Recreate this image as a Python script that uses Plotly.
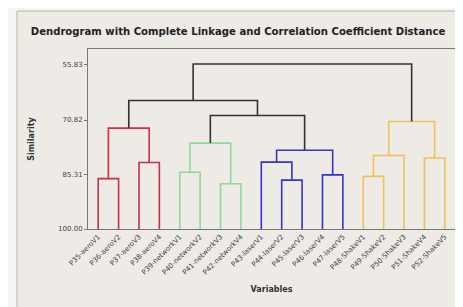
import plotly.graph_objects as go

# ---- data ----
leaf_labels = ["P35-aeroV1", "P36-aeroV2", "P37-aeroV3", "P38-aeroV4",
               "P39-networkV1", "P40-networkV2", "P41-networkV3", "P42-networkV4",
               "P43-laserV1", "P44-laserV2", "P45-laserV3", "P46-laserV4", "P47-laserV5",
               "P48-ShakeV1", "P49-ShakeV2", "P50-ShakeV3", "P51-ShakeV4", "P52-ShakeV5"]
leaf_group = ["A", "A", "A", "A", "B", "B", "B", "B", "C", "C", "C", "C", "C",
              "D", "D", "D", "D", "D"]
# linkage: (left child, right child, similarity); new clusters numbered from 18
merge_left = [0, 2, 18, 4, 6, 21, 9, 8, 11, 25, 13, 28, 16, 29, 23, 20, 33]
merge_right = [1, 3, 19, 5, 7, 22, 10, 24, 12, 26, 14, 15, 17, 30, 27, 32, 31]
merge_sim = [86.5, 82.2, 73.0, 84.8, 87.9, 77.0, 86.9, 82.1, 85.5, 78.9,
             85.9, 80.3, 81.0, 71.2, 69.6, 65.6, 55.83]
y_ticks = [55.83, 70.82, 85.31, 100.00]
y_tick_text = ["55.83", "70.82", "85.31", "100.00"]

# ---- style ----
group_color = {"A": "#cc2e48", "B": "#8fd89a", "C": "#3434cc", "D": "#f0c05c", None: "#333333"}
font_fam = "DejaVu Sans, Verdana, sans-serif"

n = len(leaf_labels)
pos = {i: float(i) for i in range(n)}
hgt = {i: 100.0 for i in range(n)}
grp = {i: leaf_group[i] for i in range(n)}
segs = {}
for k, (a, b, s) in enumerate(zip(merge_left, merge_right, merge_sim)):
    cid = n + k
    g = grp[a] if grp[a] == grp[b] else None
    segs.setdefault(g, ([], []))
    xs, ys = segs[g]
    xs += [pos[a], pos[a], pos[b], pos[b], None]
    ys += [hgt[a], s, s, hgt[b], None]
    pos[cid] = (pos[a] + pos[b]) / 2
    hgt[cid] = s
    grp[cid] = g

fig = go.Figure()
for g, (xs, ys) in segs.items():
    fig.add_trace(go.Scatter(x=xs, y=ys, mode="lines",
                             line=dict(color=group_color[g], width=1.6),
                             hoverinfo="skip", showlegend=False))

fig.update_layout(
    width=463, height=307,
    margin=dict(l=80, r=16, t=41, b=86),
    paper_bgcolor="#f7f5f3", plot_bgcolor="#ffffff",
    title=dict(text="<b>Dendrogram with Complete Linkage and Correlation Coefficient Distance</b>",
               xref="container", x=230 / 463, xanchor="center", y=0.925, yanchor="middle",
               font=dict(family=font_fam, size=10.1, color="#222222")),
    shapes=[dict(type="rect", xref="paper", yref="paper",
                 x0=(9 - 80) / 367, x1=(458 - 80) / 367,
                 y0=(221 - 304) / 180, y1=(221 - 3) / 180,
                 fillcolor="#eeeae5", line=dict(color="#b5b1ac", width=1),
                 layer="below")],
)
fig.update_xaxes(range=[-0.5, n - 0.5], tickmode="array",
                 tickvals=list(range(n)), ticktext=leaf_labels, tickangle=-45,
                 tickfont=dict(family=font_fam, size=7, color="#444444"),
                 ticks="", showgrid=False, zeroline=False,
                 showline=True, linecolor="#777777", mirror=True,
                 title=dict(text="<b>Variables</b>", standoff=10,
                            font=dict(family=font_fam, size=8, color="#333333")))
fig.update_yaxes(range=[100, 51.8], tickmode="array", tickvals=y_ticks,
                 ticktext=y_tick_text,
                 tickfont=dict(family=font_fam, size=7, color="#444444"),
                 ticks="outside", ticklen=3, tickcolor="#777777",
                 showgrid=False, zeroline=False,
                 showline=True, linecolor="#777777", mirror=True,
                 title=dict(text="<b>Similarity</b>", standoff=22,
                            font=dict(family=font_fam, size=8, color="#333333")))

fig.write_html("out.html")
